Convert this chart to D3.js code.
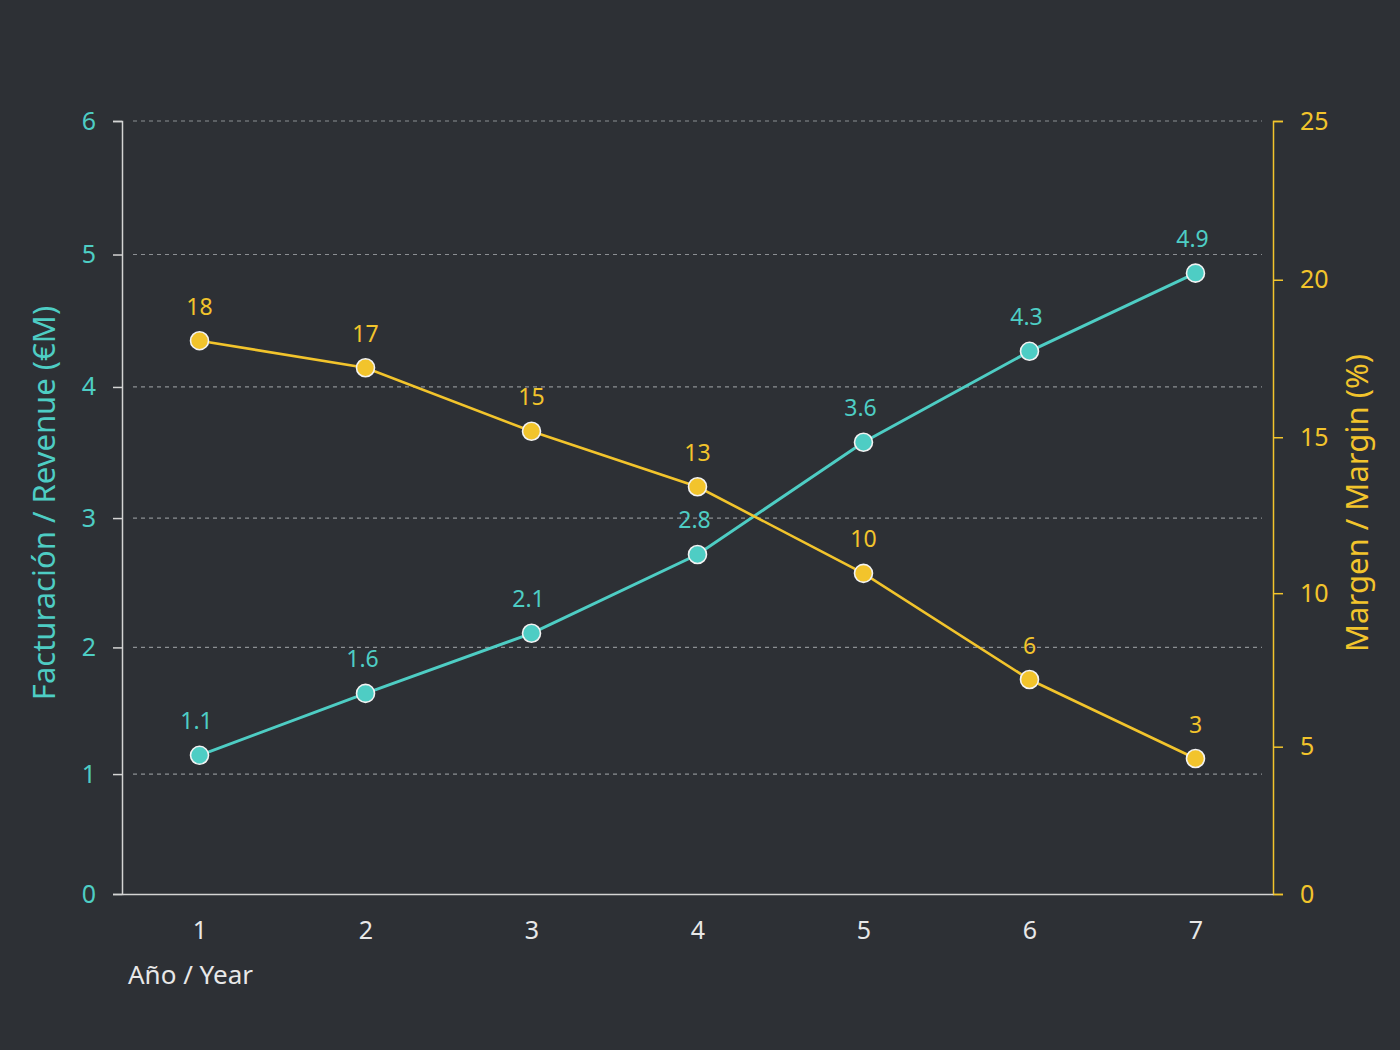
<!DOCTYPE html>
<html>
<head>
<meta charset="utf-8">
<script src="https://cdn.jsdelivr.net/npm/d3@7"></script>
<style>
  html, body { margin: 0; padding: 0; background: #2d3035; }
  svg { display: block; }
  text { font-family: "Noto Sans", "Open Sans", sans-serif; font-weight: 400; }
</style>
</head>
<body>
<svg id="chart" width="1400" height="1050"></svg>
<script>
// ---- data ----
const years = [1, 2, 3, 4, 5, 6, 7];
const revenue = [1.15, 1.64, 2.11, 2.72, 3.58, 4.27, 4.86];
const revenueLabels = ["1.1", "1.6", "2.1", "2.8", "3.6", "4.3", "4.9"];
const marginPct = [18.07, 17.21, 15.19, 13.42, 10.64, 7.2, 4.61];
const marginLabels = ["18", "17", "15", "13", "10", "6", "3"];
const revenueTicks = [0, 1, 2, 3, 4, 5, 6];
const marginTicks = [0, 5, 10, 15, 20, 25];
const xTitle = "Año / Year";
const yLeftTitle = "Facturación / Revenue (€M)";
const yRightTitle = "Margen / Margin (%)";

// ---- style ----
const CYAN = "#4ecdc4";
const YELLOW = "#f2c42c";
const AXIS = "#d4d4d4";
const TEXT = "#e8e8e8";
const FONT = "'Noto Sans', 'Open Sans', sans-serif";

const plot = { left: 122, right: 1273, top: 121, bottom: 894 };
const svg = d3.select("#chart");
svg.append("rect").attr("width", 1400).attr("height", 1050).attr("fill", "#2d3035");

const x = d3.scalePoint().domain(years).range([plot.left, plot.right]).padding(0.467);
const yL = d3.scalePow().exponent(1.04).domain([0, 6]).range([plot.bottom, plot.top]);
const yR = d3.scalePow().exponent(1.03).domain([0, 25]).range([plot.bottom, plot.top]);

// grid
svg.append("g").selectAll("line")
  .data(revenueTicks.filter(d => d > 0))
  .join("line")
  .attr("x1", plot.left + 11).attr("x2", plot.right - 11)
  .attr("y1", d => yL(d)).attr("y2", d => yL(d))
  .attr("stroke", "#8c8f93").attr("stroke-width", 1.2)
  .attr("stroke-dasharray", "4,4");

function styleTicks(g, color) {
  g.selectAll(".tick text").attr("fill", color).attr("font-size", 25)
    .style("font-family", FONT).style("font-weight", 400);
}

// left axis
const gL = svg.append("g").attr("transform", `translate(${plot.left},0)`)
  .call(d3.axisLeft(yL).tickValues(revenueTicks).tickFormat(d3.format("d"))
    .tickSize(9).tickSizeOuter(9).tickPadding(17));
gL.select(".domain").attr("stroke", AXIS).attr("stroke-width", 1.5);
gL.selectAll(".tick line").attr("stroke", AXIS).attr("stroke-width", 1.5);
styleTicks(gL, CYAN);

// right axis
const gR = svg.append("g").attr("transform", `translate(${plot.right},0)`)
  .call(d3.axisRight(yR).tickValues(marginTicks).tickFormat(d3.format("d"))
    .tickSize(10).tickSizeOuter(10).tickPadding(17));
gR.select(".domain").attr("stroke", YELLOW).attr("stroke-width", 1.5);
gR.selectAll(".tick line").attr("stroke", YELLOW).attr("stroke-width", 1.5);
styleTicks(gR, YELLOW);

// bottom axis
const gB = svg.append("g").attr("transform", `translate(0,${plot.bottom})`)
  .call(d3.axisBottom(x).tickSize(0).tickSizeOuter(0).tickPadding(27));
gB.select(".domain").attr("stroke", AXIS).attr("stroke-width", 1.5);
styleTicks(gB, TEXT);

// titles
svg.append("text").attr("x", 128).attr("y", 984).attr("fill", TEXT)
  .attr("font-size", 26).text(xTitle);
svg.append("text").attr("transform", "translate(43,503) rotate(-90)")
  .attr("text-anchor", "middle").attr("dominant-baseline", "central")
  .attr("fill", CYAN).attr("font-size", 31).text(yLeftTitle);
svg.append("text").attr("transform", "translate(1356,503) rotate(-90)")
  .attr("text-anchor", "middle").attr("dominant-baseline", "central")
  .attr("fill", YELLOW).attr("font-size", 31).text(yRightTitle);

// series
const revData = years.map((yr, i) => ({ yr, v: revenue[i], label: revenueLabels[i] }));
const marData = years.map((yr, i) => ({ yr, v: marginPct[i], label: marginLabels[i] }));

const lineL = d3.line().x(d => x(d.yr)).y(d => yL(d.v));
const lineR = d3.line().x(d => x(d.yr)).y(d => yR(d.v));

svg.append("path").datum(revData).attr("d", lineL)
  .attr("fill", "none").attr("stroke", CYAN).attr("stroke-width", 3);
svg.append("path").datum(marData).attr("d", lineR)
  .attr("fill", "none").attr("stroke", YELLOW).attr("stroke-width", 2.6);

svg.append("g").selectAll("circle").data(revData).join("circle")
  .attr("cx", d => x(d.yr)).attr("cy", d => yL(d.v)).attr("r", 9)
  .attr("fill", CYAN).attr("stroke", "#f2f2f2").attr("stroke-width", 1.6);
svg.append("g").selectAll("circle").data(marData).join("circle")
  .attr("cx", d => x(d.yr)).attr("cy", d => yR(d.v)).attr("r", 9)
  .attr("fill", YELLOW).attr("stroke", "#f2f2f2").attr("stroke-width", 1.6);

svg.append("g").selectAll("text").data(revData).join("text")
  .attr("x", d => x(d.yr) - 3).attr("y", d => yL(d.v) - 26)
  .attr("text-anchor", "middle").attr("fill", CYAN).attr("font-size", 23)
  .text(d => d.label);
svg.append("g").selectAll("text").data(marData).join("text")
  .attr("x", d => x(d.yr)).attr("y", d => yR(d.v) - 26)
  .attr("text-anchor", "middle").attr("fill", YELLOW).attr("font-size", 23)
  .text(d => d.label);
</script>
</body>
</html>
